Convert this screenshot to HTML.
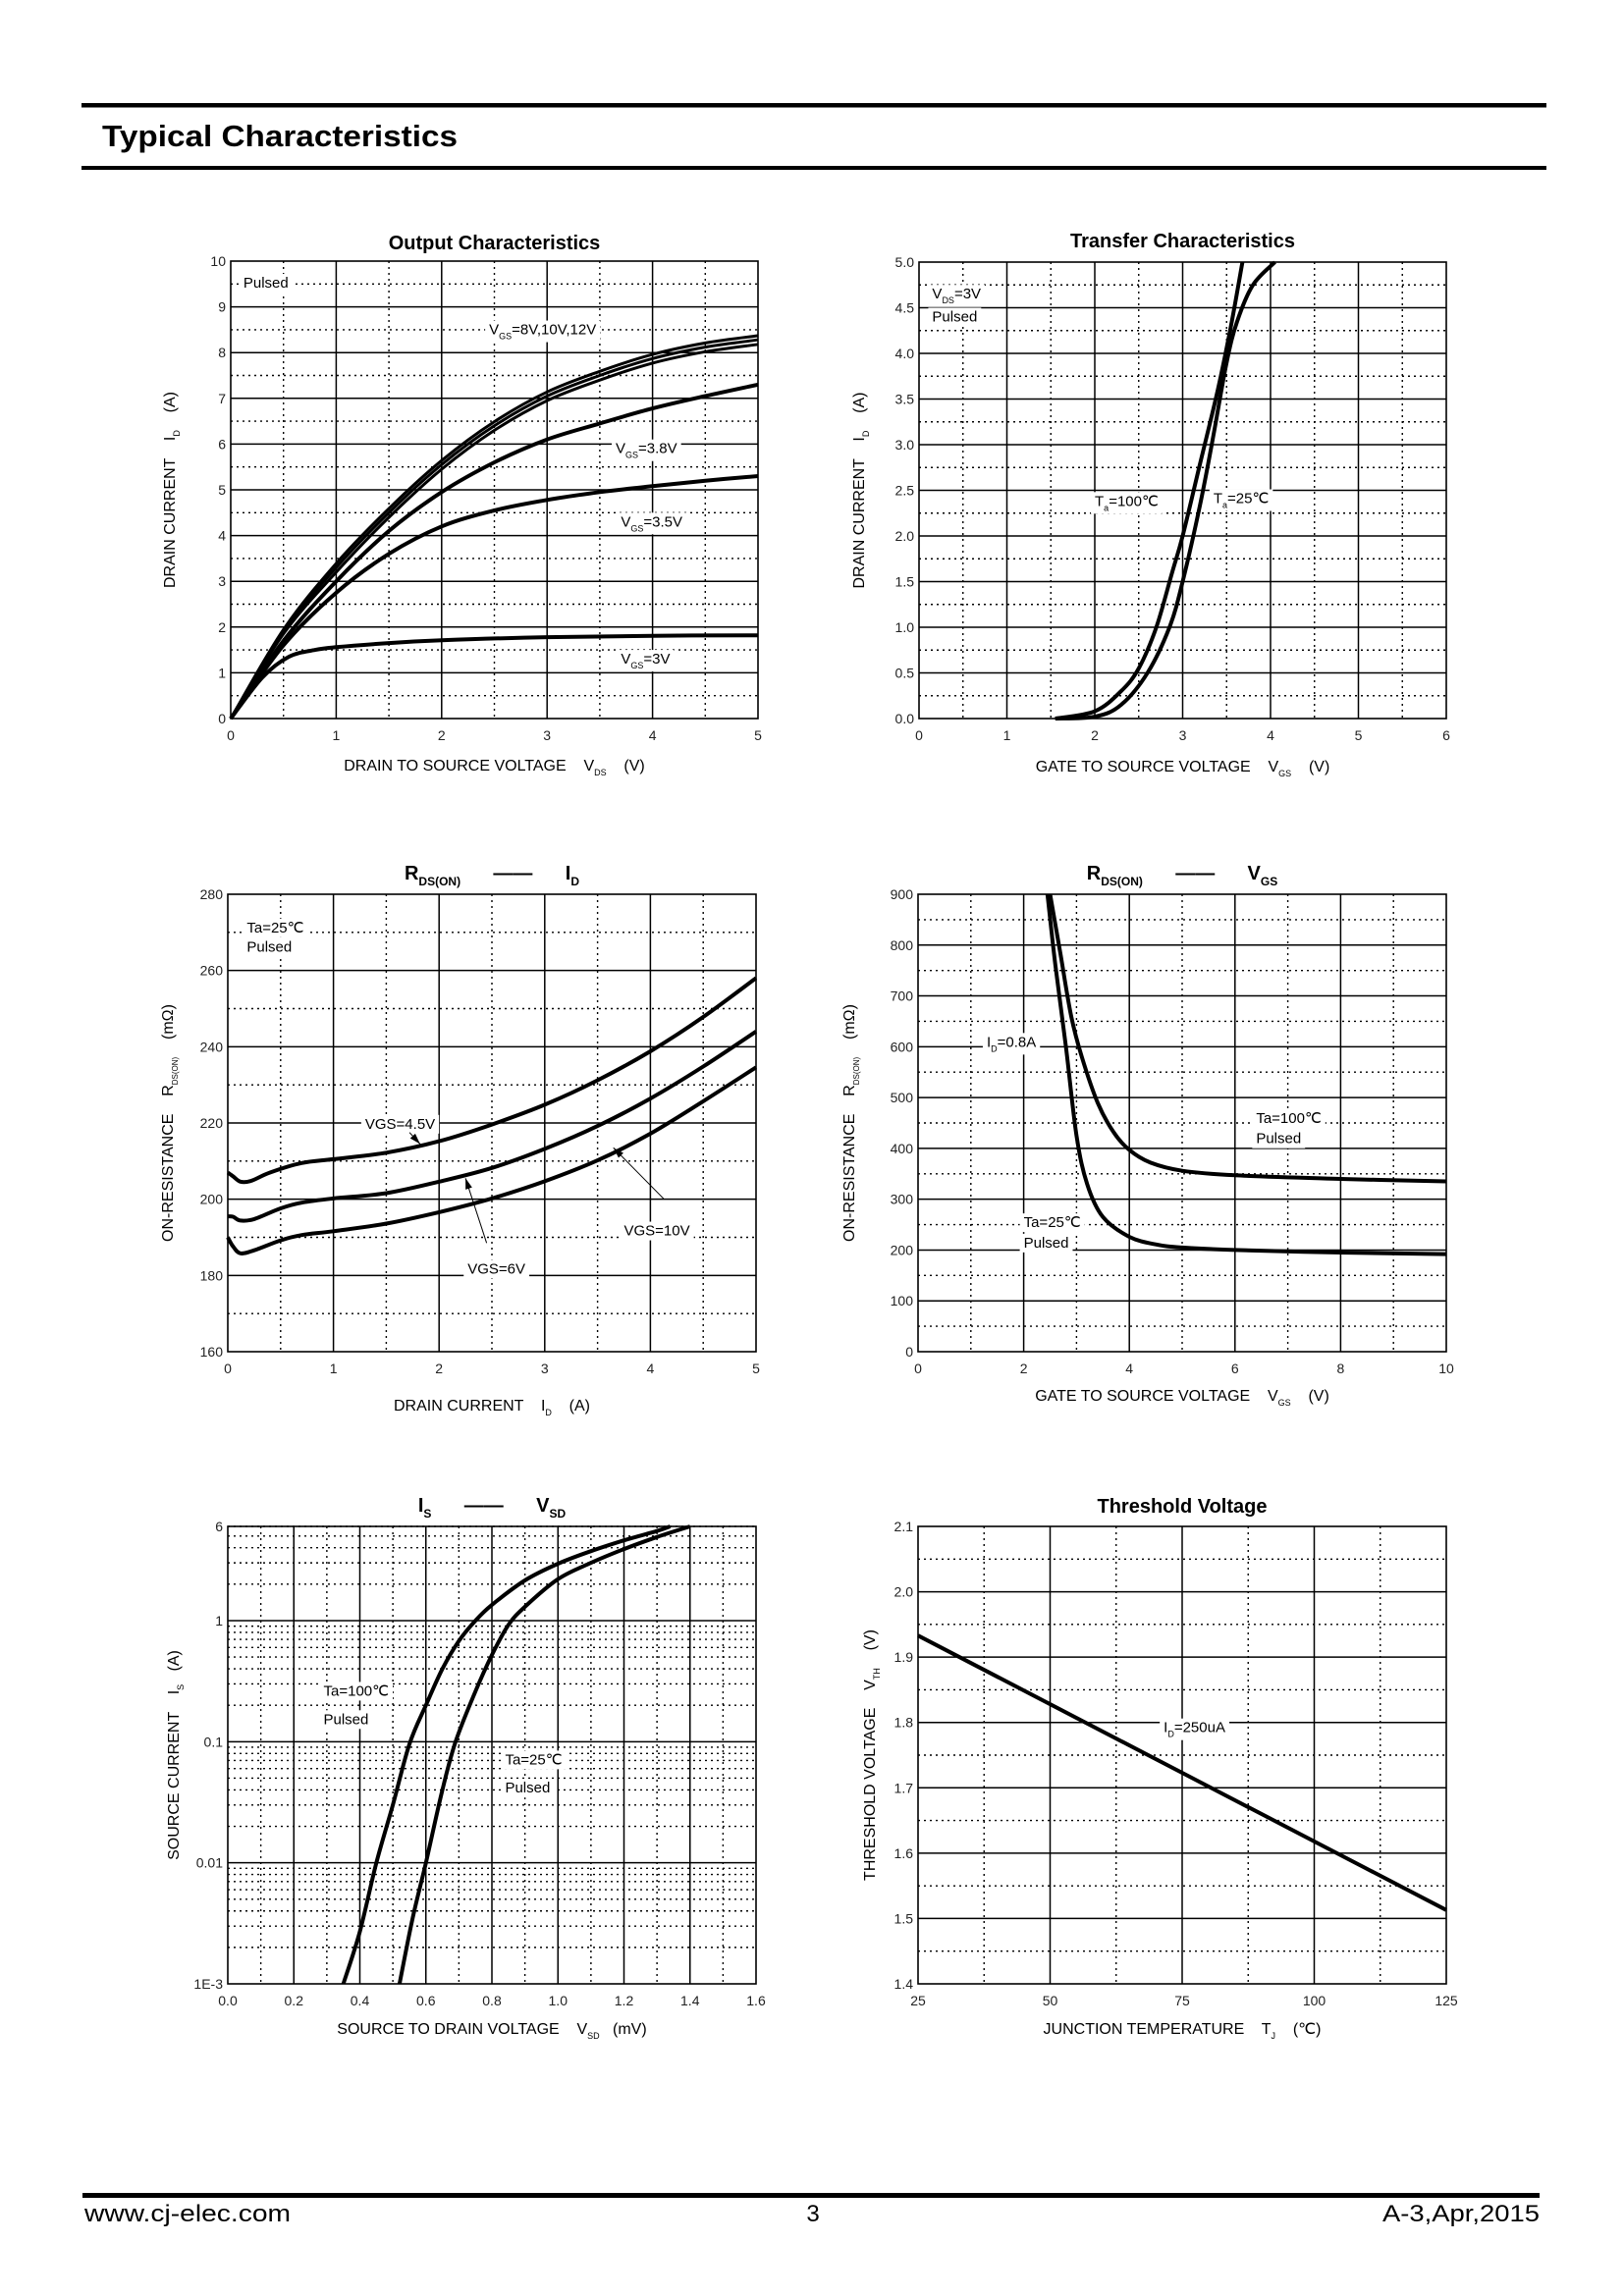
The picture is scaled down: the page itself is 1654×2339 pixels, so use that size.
<!DOCTYPE html>
<html><head><meta charset="utf-8">
<style>
html,body{margin:0;padding:0;background:#fff;}
svg{display:block;font-family:"Liberation Sans",Arial,sans-serif;}
text{white-space:pre;}
</style></head>
<body>
<svg id="s" width="1654" height="2339" viewBox="0 0 1654 2339" xmlns="http://www.w3.org/2000/svg">
<rect width="1654" height="2339" fill="#fff"/>
<rect x="83" y="105" width="1492" height="4.5" fill="#000"/>
<rect x="83" y="169" width="1492" height="4" fill="#000"/>
<text x="104" y="149" font-size="31" font-weight="bold" textLength="362" lengthAdjust="spacingAndGlyphs">Typical Characteristics</text>
<rect x="84" y="2234" width="1484" height="5" fill="#000"/>
<text x="86" y="2263" font-size="24" textLength="210" lengthAdjust="spacingAndGlyphs">www.cj-elec.com</text>
<text x="828" y="2263" font-size="24" text-anchor="middle">3</text>
<text x="1568" y="2263" font-size="24" text-anchor="end" textLength="160" lengthAdjust="spacingAndGlyphs">A-3,Apr,2015</text>
<g id="g"></g>
</svg>
<script>
var NS="http://www.w3.org/2000/svg",G=document.getElementById('g');
function el(t,a,p){var e=document.createElementNS(NS,t);for(var k in a)e.setAttribute(k,a[k]);(p||G).appendChild(e);return e;}
function rng(a,b,s){var r=[];for(var v=a;v<=b+1e-9;v+=s)r.push(+v.toFixed(6));return r;}
function smooth(pts){var d="M"+pts[0][0].toFixed(1)+","+pts[0][1].toFixed(1);
 for(var i=0;i<pts.length-1;i++){var p0=pts[i-1]||pts[i],p1=pts[i],p2=pts[i+1],p3=pts[i+2]||p2;
  var c1=[p1[0]+(p2[0]-p0[0])/6,p1[1]+(p2[1]-p0[1])/6],c2=[p2[0]-(p3[0]-p1[0])/6,p2[1]-(p3[1]-p1[1])/6];
  d+="C"+c1[0].toFixed(1)+","+c1[1].toFixed(1)+" "+c2[0].toFixed(1)+","+c2[1].toFixed(1)+" "+p2[0].toFixed(1)+","+p2[1].toFixed(1);}
 return d;}
function rt(x,y,parts,o){o=o||{};var t=el('text',{x:x,y:y,'font-size':o.fs||15,'text-anchor':o.anchor||'start'});
 if(o.rot)t.setAttribute('transform','rotate(-90 '+x+' '+y+')');
 if(o.bold)t.setAttribute('font-weight','bold');
 parts.forEach(function(p){if(typeof p=='string'){var s=el('tspan',{},t);s.textContent=p;}
  else{var s=el('tspan',{'font-size':p[2]||9,dy:p[1]||5},t);s.textContent=p[0];var r=el('tspan',{dy:-(p[1]||5)},t);r.textContent=p[3]||"\u200b";}});
 if(o.bg){var b=t.getBBox();var r=el('rect',{x:b.x-4,y:b.y-1,width:b.width+8,height:b.height+2,fill:'#fff'});G.insertBefore(r,t);}
 return t;}
function plot(c){
 var X=function(v){return c.x0+(v-c.xr[0])/(c.xr[1]-c.xr[0])*(c.x1-c.x0);};
 var Y=c.log?function(v){return c.y1-(Math.log10(v)-Math.log10(c.yr[0]))/(Math.log10(c.yr[1])-Math.log10(c.yr[0]))*(c.y1-c.y0);}
          :function(v){return c.y1-(v-c.yr[0])/(c.yr[1]-c.yr[0])*(c.y1-c.y0);};
 c.xMin.forEach(function(v){el('line',{x1:X(v),x2:X(v),y1:c.y0,y2:c.y1,stroke:'#000','stroke-width':1.4,'stroke-dasharray':'2,4'});});
 c.yMin.forEach(function(v){el('line',{y1:Y(v),y2:Y(v),x1:c.x0,x2:c.x1,stroke:'#000','stroke-width':1.4,'stroke-dasharray':'2,4'});});
 c.xMaj.forEach(function(v){el('line',{x1:X(v),x2:X(v),y1:c.y0,y2:c.y1,stroke:'#000','stroke-width':1.5});});
 c.yMaj.forEach(function(v){el('line',{y1:Y(v),y2:Y(v),x1:c.x0,x2:c.x1,stroke:'#000','stroke-width':1.5});});
 el('rect',{x:c.x0,y:c.y0,width:c.x1-c.x0,height:c.y1-c.y0,fill:'none',stroke:'#000','stroke-width':1.6});
 c.xt.forEach(function(t){var e=el('text',{x:X(t[0]),y:c.y1+22,'font-size':14,'text-anchor':'middle',fill:'#222'});e.textContent=t[1];});
 c.yt.forEach(function(t){var e=el('text',{x:c.x0-5,y:Y(t[0])+5,'font-size':14,'text-anchor':'end',fill:'#222'});e.textContent=t[1];});
 (c.labels||[]).forEach(function(l){rt(X(l[0]),Y(l[1]),l[2],{bg:true,fs:15});});
 (c.arrows||[]).forEach(function(a){var x1=X(a[0]),y1=Y(a[1]),x2=X(a[2]),y2=Y(a[3]);
  el('line',{x1:x1,y1:y1,x2:x2,y2:y2,stroke:'#000','stroke-width':1});
  var ang=Math.atan2(y2-y1,x2-x1),L=11,w=3.5;
  var bx=x2-L*Math.cos(ang),by=y2-L*Math.sin(ang);
  el('polygon',{points:x2+','+y2+' '+(bx+w*Math.sin(ang))+','+(by-w*Math.cos(ang))+' '+(bx-w*Math.sin(ang))+','+(by+w*Math.cos(ang)),fill:'#000'});});
 c.curves.forEach(function(cv,i){var pts=cv.map(function(p){return [X(p[0]),Y(p[1])];});
  el('path',{d:smooth(pts),fill:'none',stroke:'#000','stroke-width':(c.sw&&c.sw[i])||4,'stroke-linejoin':'round'});});
 rt((c.x0+c.x1)/2+(c.tdx||0),c.ty,c.title,{anchor:'middle',fs:20,bold:true});
 rt(c.ylx,(c.y0+c.y1)/2,c.ylab,{anchor:'middle',rot:true,fs:16});
 rt((c.x0+c.x1)/2+(c.xldx||0),c.xly,c.xlab,{anchor:'middle',fs:16});
}
var off=function(a,d){return a.map(function(p){return [p[0],p[0]==0?0:p[1]+d*Math.min(1,p[0])];});};
var g8=[[0,0],[0.5,1.9],[1,3.3],[1.5,4.5],[2,5.55],[2.5,6.4],[3,7.05],[3.5,7.5],[4,7.87],[4.5,8.12],[5,8.28]];
plot({x0:235,y0:266,x1:772,y1:732,xr:[0,5],yr:[0,10],xMaj:rng(1,4,1),xMin:rng(0.5,4.5,1),yMaj:rng(1,9,1),yMin:rng(0.5,9.5,1),
 xt:rng(0,5,1).map(function(v){return [v,""+v];}),yt:rng(0,10,1).map(function(v){return [v,""+v];}),
 labels:[[0.12,9.42,["Pulsed"]],[2.45,8.4,["V",["GS",5,9],"=8V,10V,12V"]],[3.65,5.8,["V",["GS",5,9],"=3.8V"]],[3.7,4.2,["V",["GS",5,9],"=3.5V"]],[3.7,1.2,["V",["GS",5,9],"=3V"]]],
 sw:[3,3,3,4,4,4],
 curves:[g8,off(g8,0.09),off(g8,-0.1),
  [[0,0],[0.5,1.7],[1,3.0],[1.5,4.1],[2,4.95],[2.5,5.6],[3,6.1],[3.5,6.45],[4,6.78],[4.5,7.05],[5,7.3]],
  [[0,0],[0.5,1.6],[1,2.75],[1.5,3.6],[2,4.2],[2.5,4.55],[3,4.78],[3.5,4.95],[4,5.08],[4.5,5.2],[5,5.3]],
  [[0,0],[0.3,0.9],[0.55,1.35],[0.8,1.5],[1,1.56],[1.5,1.65],[2,1.71],[3,1.78],[4,1.81],[5,1.82]]],
 ty:254,title:["Output Characteristics"],ylx:178,ylab:["DRAIN CURRENT    I",["D",5,9],"    (A)"],xly:785,xlab:["DRAIN TO SOURCE VOLTAGE    V",["DS",5,9],"    (V)"]});
plot({x0:936,y0:267,x1:1473,y1:732,xr:[0,6],yr:[0,5],xMaj:rng(1,5,1),xMin:rng(0.5,5.5,1),yMaj:rng(0.5,4.5,0.5),yMin:rng(0.25,4.75,0.5),
 xt:rng(0,6,1).map(function(v){return [v,""+v];}),yt:rng(0,5,0.5).map(function(v){return [v,v.toFixed(1)];}),
 labels:[[0.15,4.6,["V",["DS",5,9],"=3V"]],[0.15,4.35,["Pulsed"]],[2.0,2.33,["T",["a",5,9],"=100\u2103"]],[3.35,2.36,["T",["a",5,9],"=25\u2103"]]],
 curves:[[[1.55,0],[2,0.02],[2.3,0.15],[2.6,0.5],[2.85,1.0],[3.0,1.5],[3.2,2.35],[3.35,3.1],[3.5,3.9],[3.62,4.35],[3.8,4.75],[4.05,5.0]],
  [[1.55,0],[2.0,0.08],[2.3,0.3],[2.5,0.55],[2.7,1.0],[2.88,1.6],[3.0,2.0],[3.2,2.8],[3.4,3.6],[3.55,4.3],[3.68,5.0]]],
 ty:252,title:["Transfer Characteristics"],ylx:880,ylab:["DRAIN CURRENT    I",["D",5,9],"    (A)"],xly:786,xlab:["GATE TO SOURCE VOLTAGE    V",["GS",5,9],"    (V)"]});
plot({x0:232,y0:911,x1:770,y1:1377,xr:[0,5],yr:[160,280],xMaj:rng(1,4,1),xMin:rng(0.5,4.5,1),yMaj:rng(180,260,20),yMin:rng(170,270,20),
 xt:rng(0,5,1).map(function(v){return [v,""+v];}),yt:rng(160,280,20).map(function(v){return [v,""+v];}),
 labels:[[0.18,270,["Ta=25\u2103"]],[0.18,265,["Pulsed"]],[1.3,218.5,["VGS=4.5V"]],[2.27,180.5,["VGS=6V"]],[3.75,190.5,["VGS=10V"]]],
 arrows:[[1.72,217.5,1.82,214.5],[2.45,188.5,2.25,205.5],[4.13,200,3.65,213.5]],
 curves:[[[0,207],[0.05,206],[0.12,204.6],[0.22,204.8],[0.4,207],[0.7,209.5],[1,210.5],[1.5,212.2],[2,215.2],[2.5,219.6],[3,224.8],[3.5,231.2],[4,238.8],[4.5,247.8],[5,258]],
  [[0,195.5],[0.05,195.4],[0.12,194.4],[0.25,194.8],[0.5,197.6],[0.7,199.1],[1,200.2],[1.5,201.6],[2,204.6],[2.5,208.2],[3,213.2],[3.5,219.2],[4,226.4],[4.5,234.8],[5,244]],
  [[0,190],[0.05,187.6],[0.12,185.8],[0.25,186.6],[0.5,189.2],[0.7,190.6],[1,191.6],[1.5,193.6],[2,196.6],[2.5,200.2],[3,204.7],[3.5,210.2],[4,217.2],[4.5,225.7],[5,234.6]]],
 ty:896,title:["R",["DS(ON)",6,12],"      \u2014\u2014      I",["D",6,12]],ylx:176,ylab:["ON-RESISTANCE    R",["DS(ON)",5,8],"    (m\u03a9)"],xly:1437,xlab:["DRAIN CURRENT    I",["D",5,9],"    (A)"]});
plot({x0:935,y0:911,x1:1473,y1:1377,xr:[0,10],yr:[0,900],xMaj:rng(2,8,2),xMin:rng(1,9,2),yMaj:rng(100,800,100),yMin:rng(50,850,100),
 xt:rng(0,10,2).map(function(v){return [v,""+v];}),yt:rng(0,900,100).map(function(v){return [v,""+v];}),
 labels:[[1.3,600,["I",["D",5,9],"=0.8A"]],[6.4,450,["Ta=100\u2103"]],[6.4,410,["Pulsed"]],[2.0,245,["Ta=25\u2103"]],[2.0,205,["Pulsed"]]],
 curves:[[[2.5,900],[2.7,780],[2.9,660],[3.1,580],[3.4,490],[3.7,432],[4,397],[4.4,372],[5,356],[6,347],[8,340],[10,335]],
  [[2.45,900],[2.6,760],[2.8,600],[3.0,425],[3.2,330],[3.5,265],[4,226],[4.5,211],[5,205],[6,200],[8,195],[10,192]]],
 ty:896,title:["R",["DS(ON)",6,12],"      \u2014\u2014      V",["GS",6,12]],ylx:870,ylab:["ON-RESISTANCE    R",["DS(ON)",5,8],"    (m\u03a9)"],xly:1427,xlab:["GATE TO SOURCE VOLTAGE    V",["GS",5,9],"    (V)"]});
var lmin=[];[0.001,0.01,0.1,1].forEach(function(d){for(var k=2;k<=9;k++){if(d*k<=6)lmin.push(d*k);}});
plot({x0:232,y0:1555,x1:770,y1:2021,log:true,xr:[0,1.6],yr:[0.001,6],xMaj:rng(0.2,1.4,0.2),xMin:rng(0.1,1.5,0.2),yMaj:[0.01,0.1,1],yMin:lmin,
 xt:rng(0,1.6,0.2).map(function(v){return [v,v.toFixed(1)];}),yt:[[0.001,"1E-3"],[0.01,"0.01"],[0.1,"0.1"],[1,"1"],[6,"6"]],
 labels:[[0.29,0.24,["Ta=100\u2103"]],[0.29,0.14,["Pulsed"]],[0.84,0.065,["Ta=25\u2103"]],[0.84,0.038,["Pulsed"]]],
 curves:[[[0.35,0.001],[0.4,0.0027],[0.45,0.01],[0.5,0.03],[0.55,0.095],[0.6,0.2],[0.65,0.4],[0.7,0.68],[0.75,1.0],[0.8,1.35],[0.9,2.15],[1.0,2.95],[1.1,3.75],[1.2,4.6],[1.3,5.5],[1.34,6]],
  [[0.52,0.001],[0.56,0.0035],[0.6,0.01],[0.65,0.04],[0.69,0.1],[0.75,0.26],[0.8,0.52],[0.85,0.92],[0.9,1.3],[1.0,2.2],[1.1,3.0],[1.2,3.9],[1.3,4.9],[1.4,6]]],
 ty:1540,title:["I",["S",6,12],"      \u2014\u2014      V",["SD",6,12]],ylx:182,ylab:["SOURCE CURRENT    I",["S",5,9],"   (A)"],xly:2072,xlab:["SOURCE TO DRAIN VOLTAGE    V",["SD",5,9],"   (mV)"]});
plot({x0:935,y0:1555,x1:1473,y1:2021,xr:[25,125],yr:[1.4,2.1],xMaj:[50,75,100],xMin:[37.5,62.5,87.5,112.5],yMaj:rng(1.5,2.0,0.1),yMin:rng(1.45,2.05,0.1),
 xt:[25,50,75,100,125].map(function(v){return [v,""+v];}),yt:rng(1.4,2.1,0.1).map(function(v){return [v,v.toFixed(1)];}),
 labels:[[71.5,1.785,["I",["D",5,9],"=250uA"]]],
 curves:[[[25,1.933],[125,1.513]]],
 ty:1541,title:["Threshold Voltage"],ylx:891,ylab:["THRESHOLD VOLTAGE    V",["TH",5,9],"    (V)"],xly:2072,xlab:["JUNCTION TEMPERATURE    T",["J",5,9],"    (\u2103)"]});
</script>
</body></html>
